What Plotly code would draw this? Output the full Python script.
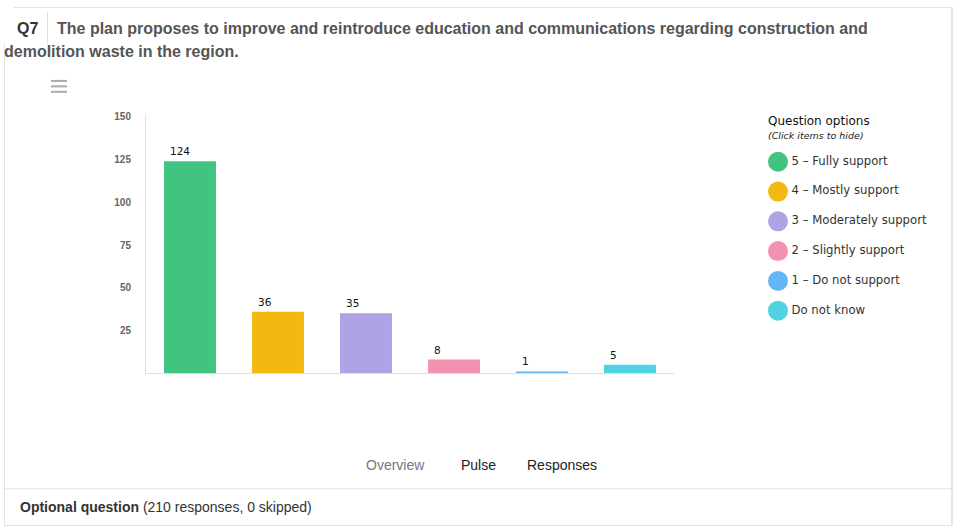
import plotly.graph_objects as go

categories = ["5 - Fully support", "4 - Mostly support", "3 - Moderately support",
              "2 - Slightly support", "1 - Do not support", "Do not know"]
legend_labels = ["5 – Fully support", "4 – Mostly support", "3 – Moderately support",
                 "2 – Slightly support", "1 – Do not support", "Do not know"]
values = [124, 36, 35, 8, 1, 5]
colors = ["#40c480", "#f3b912", "#ada3e5", "#f391b1", "#66b5f5", "#4fd2e2"]
y_ticks = [25, 50, 75, 100, 125, 150]

W, H = 956, 529
def px(x):
    return x / W
def py(y):
    return 1 - y / H

LEG_FONT = "DejaVu Sans, Verdana, sans-serif"
fig = go.Figure()

fig.add_trace(go.Bar(
    x=categories, y=values, marker=dict(color=colors, line=dict(width=0)),
    showlegend=False, hoverinfo="x+y", xaxis="x", yaxis="y",
))

# custom legend with big circles
fig.add_trace(go.Scatter(
    x=[0.5] * len(legend_labels), y=list(range(len(legend_labels))),
    mode="markers+text", text=legend_labels, textposition="middle right",
    marker=dict(size=20, color=colors),
    textfont=dict(family=LEG_FONT, size=11.7, color="#333333"),
    showlegend=False, hoverinfo="skip", xaxis="x2", yaxis="y2", cliponaxis=False,
))

annotations = []
for c, v in zip(categories, values):
    annotations.append(dict(
        x=c, y=v, xref="x", yref="y", text=str(v), showarrow=False,
        xanchor="left", yanchor="bottom", xshift=-22, yshift=2,
        font=dict(family=LEG_FONT, size=10.5, color="#111111"),
    ))

title_font = dict(family="Liberation Sans, Arial, sans-serif", size=16, color="#555555")
annotations += [
    dict(x=px(15), y=py(25), xref="paper", yref="paper", xanchor="left", yanchor="middle",
         text="<b>Q7</b>", showarrow=False,
         font=dict(family="Liberation Sans, Arial, sans-serif", size=16, color="#333333")),
    dict(x=px(55), y=py(25), xref="paper", yref="paper", xanchor="left", yanchor="middle",
         text="<b>The plan proposes to improve and reintroduce education and communications regarding construction and</b>",
         showarrow=False, font=title_font),
    dict(x=px(2), y=py(48), xref="paper", yref="paper", xanchor="left", yanchor="middle",
         text="<b>demolition waste in the region.</b>", showarrow=False, font=title_font),
    dict(x=px(767), y=py(126), xref="paper", yref="paper", xanchor="left", yanchor="bottom",
         text="Question options", showarrow=False, borderpad=0,
         font=dict(family=LEG_FONT, size=12, color="#111111")),
    dict(x=px(767), y=py(126), xref="paper", yref="paper", xanchor="left", yanchor="top",
         text="<i>(Click items to hide)</i>", showarrow=False, borderpad=0,
         font=dict(family=LEG_FONT, size=9.5, color="#222222")),
    dict(x=px(395), y=py(465), xref="paper", yref="paper", xanchor="center", yanchor="middle",
         text="Overview", showarrow=False,
         font=dict(family="Liberation Sans, Arial, sans-serif", size=14, color="#777777")),
    dict(x=px(478), y=py(465), xref="paper", yref="paper", xanchor="center", yanchor="middle",
         text="Pulse", showarrow=False,
         font=dict(family="Liberation Sans, Arial, sans-serif", size=14, color="#222222")),
    dict(x=px(562), y=py(465), xref="paper", yref="paper", xanchor="center", yanchor="middle",
         text="Responses", showarrow=False,
         font=dict(family="Liberation Sans, Arial, sans-serif", size=14, color="#222222")),
    dict(x=px(18), y=py(507), xref="paper", yref="paper", xanchor="left", yanchor="middle",
         text="<b>Optional question</b> (210 responses, 0 skipped)", showarrow=False,
         font=dict(family="Liberation Sans, Arial, sans-serif", size=14, color="#333333")),
]

border = "#e2e2e2"
shapes = [
    # card border
    dict(type="line", xref="paper", yref="paper", x0=px(4.5), x1=px(4.5), y0=py(40), y1=py(525), line=dict(color=border, width=1)),
    dict(type="line", xref="paper", yref="paper", x0=px(14), x1=px(952), y0=py(3.5), y1=py(3.5), line=dict(color=border, width=1)),
    dict(type="line", xref="paper", yref="paper", x0=px(952), x1=px(952), y0=py(3), y1=py(526), line=dict(color="#e6e6e6", width=2)),
    dict(type="line", xref="paper", yref="paper", x0=px(4), x1=px(952), y0=py(525.5), y1=py(525.5), line=dict(color=border, width=1)),
    dict(type="line", xref="paper", yref="paper", x0=px(4), x1=px(952), y0=py(488.5), y1=py(488.5), line=dict(color=border, width=1)),
    # Q7 divider
    dict(type="line", xref="paper", yref="paper", x0=px(47.5), x1=px(47.5), y0=py(8), y1=py(40), line=dict(color="#dddddd", width=1)),
]
# hamburger icon
for yy in [77.5, 83, 88.5]:
    shapes.append(dict(type="line", xref="paper", yref="paper", x0=px(51), x1=px(67), y0=py(yy), y1=py(yy),
                       line=dict(color="#aaaaaa", width=2)))

axis_line = "#d6dfeb"
fig.update_layout(
    width=W, height=H,
    margin=dict(l=0, r=0, t=0, b=0),
    paper_bgcolor="white", plot_bgcolor="white",
    bargap=0.41,
    xaxis=dict(domain=[px(146), px(674)], showticklabels=False, showgrid=False, zeroline=False,
               showline=True, linecolor=axis_line, linewidth=1, ticks="", fixedrange=True),
    yaxis=dict(domain=[py(372), py(112)], range=[0, 151], tickvals=y_ticks,
               ticktext=[f"<b>{t}</b>" for t in y_ticks], showgrid=False, zeroline=False,
               showline=True, linecolor=axis_line, linewidth=1, ticks="",
               ticklabelstandoff=12,
               tickfont=dict(family="Liberation Sans, Arial, sans-serif", size=10, color="#666666")),
    xaxis2=dict(domain=[px(768), px(788)], range=[0, 1], visible=False, anchor="y2", fixedrange=True),
    yaxis2=dict(domain=[py(324), py(144)], range=[5.5, -0.5], visible=False, anchor="x2", fixedrange=True),
    annotations=annotations,
    shapes=shapes,
    hovermode="closest",
)

fig.write_html("out.html", config={"displayModeBar": False})
